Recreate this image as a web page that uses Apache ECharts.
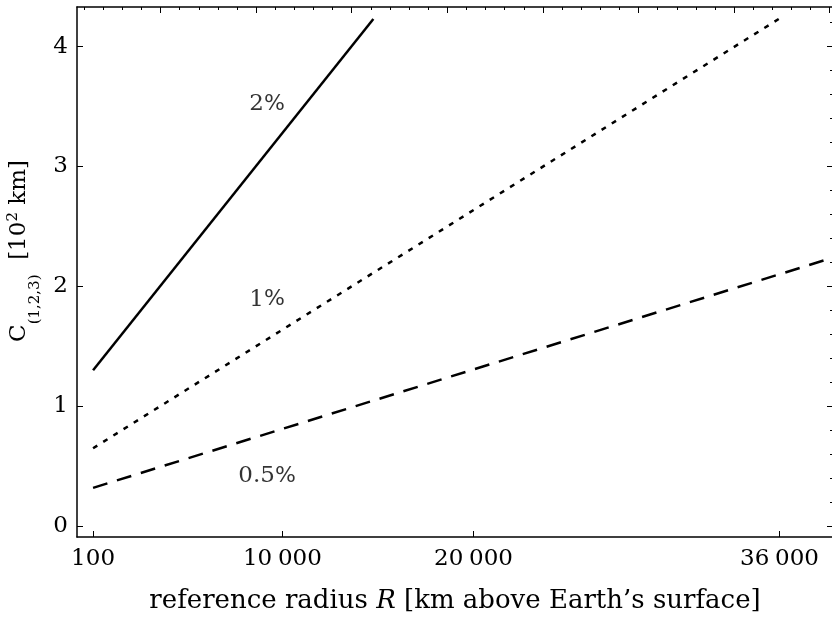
<!DOCTYPE html>
<html>
<head>
<meta charset="utf-8">
<script src="https://cdn.jsdelivr.net/npm/echarts@6/dist/echarts.min.js"></script>
<style>
  html, body { margin: 0; padding: 0; background: #fff; }
  #chart { width: 832px; height: 621px; }
</style>
</head>
<body>
<div id="chart"></div>
<script>
// reference radius R [km above surface] vs C [10^2 km]
const r2 = [100, 14760];
const c2 = [1.30, 4.23];
const r1 = [100, 35960];
const c1 = [0.65, 4.23];
const r05 = [100, 38800];
const c05 = [0.32, 2.24];

// curve labels
const curveLabels = ['2', '1', '0.5'];
const labelR = [9200, 9200, 9200];
const labelC = [3.52, 1.89, 0.42];

// ticks
const xTicks = [100, 10000, 20000, 36000];
const xTickLabels = ['100', '10\u2005000', '20\u2005000', '36\u2005000'];
const yTicks = [0, 1, 2, 3, 4];
const yMinorTicks = [0, 0.2, 0.4, 0.6, 0.8, 1, 1.2, 1.4, 1.6, 1.8, 2, 2.2, 2.4, 2.6, 2.8, 3, 3.2, 3.4, 3.6, 3.8, 4, 4.2];
// top axis: distance from Earth's centre
const EARTH_R = 6371;
const topMajorTicks = [10000, 15000, 20000, 25000, 30000, 35000, 40000, 45000];
const topMinorTicks = [];
for (let d = 6000; d <= 45000; d += 1000) topMinorTicks.push(d);

const X_MIN = -740, X_MAX = 38800;
const Y_MIN = -0.09, Y_MAX = 4.33;

const FONT = 'DejaVu Serif';
const black = '#000';

function zip(xs, ys) {
    return xs.map((x, i) => [x, ys[i]]);
}

function ticks(values, len) {
    return {show: true, inside: true, length: len, customValues: values, lineStyle: {color: black, width: 1}};
}

function tickAxis(extra, lineShown) {
    return Object.assign({
        type: 'value',
        splitLine: {show: false},
        axisLine: {show: lineShown, onZero: false, lineStyle: {color: black, width: 1.5}},
        axisLabel: {show: false}
    }, extra);
}

const chart = echarts.init(document.getElementById('chart'), null, {renderer: 'canvas'});

const option = {
    animation: false,
    backgroundColor: '#fff',
    grid: {left: 77, top: 7, right: -1, bottom: 84, containLabel: false, outerBoundsMode: 'none'},
    xAxis: [
        tickAxis({
            position: 'bottom',
            min: X_MIN, max: X_MAX,
            axisTick: ticks(xTicks, 6),
            axisLabel: {
                show: true, customValues: xTicks, margin: 11,
                color: black, fontFamily: FONT, fontSize: 23,
                formatter: v => xTickLabels[xTicks.indexOf(v)]
            },
            name: '{t|reference radius }{i|R}{t| [km above Earth\u2019s surface]}',
            nameLocation: 'middle',
            nameGap: 51,
            nameTextStyle: {
                rich: {
                    t: {fontFamily: FONT, fontSize: 26, color: black},
                    i: {fontFamily: FONT, fontSize: 26, fontStyle: 'italic', color: black}
                }
            }
        }, true),
        tickAxis({
            position: 'top',
            min: X_MIN + EARTH_R, max: X_MAX + EARTH_R,
            axisTick: ticks(topMajorTicks, 6)
        }, true),
        tickAxis({
            position: 'top',
            min: X_MIN + EARTH_R, max: X_MAX + EARTH_R,
            axisTick: ticks(topMinorTicks, 3)
        }, false)
    ],
    yAxis: [
        tickAxis({
            position: 'left',
            min: Y_MIN, max: Y_MAX,
            axisTick: ticks(yTicks, 6),
            axisLabel: {
                show: true, customValues: yTicks, margin: 9,
                color: black, fontFamily: FONT, fontSize: 23
            },
            name: '{c|C}{s|(1,2,3)}{c|  [10}{p|2}{c| km]}',
            nameLocation: 'middle',
            nameGap: 34,
            nameTextStyle: {
                padding: [0, 0, 0, 42],
                rich: {
                    c: {fontFamily: FONT, fontSize: 23, color: black, lineHeight: 46, verticalAlign: 'middle'},
                    s: {fontFamily: FONT, fontSize: 15, color: black, lineHeight: 12, verticalAlign: 'bottom'},
                    p: {fontFamily: FONT, fontSize: 15, color: black, height: 33, lineHeight: 33, verticalAlign: 'top'}
                }
            }
        }, true),
        tickAxis({
            position: 'right',
            min: Y_MIN, max: Y_MAX,
            axisTick: ticks(yTicks, 6)
        }, true),
        tickAxis({
            position: 'right',
            min: Y_MIN, max: Y_MAX,
            axisTick: ticks(yMinorTicks, 3)
        }, false)
    ],
    series: [
        {
            type: 'line', name: '2%', xAxisIndex: 0, yAxisIndex: 0,
            data: zip(r2, c2), showSymbol: false, symbol: 'none',
            lineStyle: {color: black, width: 2.5, type: 'solid'}
        },
        {
            type: 'line', name: '1%', xAxisIndex: 0, yAxisIndex: 0,
            data: zip(r1, c1), showSymbol: false, symbol: 'none',
            lineStyle: {color: black, width: 2.5, type: [5, 7], cap: 'butt'}
        },
        {
            type: 'line', name: '0.5%', xAxisIndex: 0, yAxisIndex: 0,
            data: zip(r05, c05), showSymbol: false, symbol: 'none',
            lineStyle: {color: black, width: 2.5, type: [15, 10], cap: 'butt'}
        },
        {
            type: 'scatter', xAxisIndex: 0, yAxisIndex: 0,
            symbolSize: 0,
            data: curveLabels.map((t, i) => ({value: [labelR[i], labelC[i]], name: t})),
            label: {
                show: true, position: 'inside',
                color: black, textBorderWidth: 0,
                formatter: p => '{n|' + p.name + '}{p|%}',
                rich: {
                    n: {fontFamily: FONT, fontSize: 23, color: black, textBorderWidth: 0},
                    p: {fontFamily: 'DejaVu Sans', fontSize: 22, color: black, textBorderWidth: 0}
                }
            }
        }
    ]
};

chart.setOption(option);
</script>
</body>
</html>
